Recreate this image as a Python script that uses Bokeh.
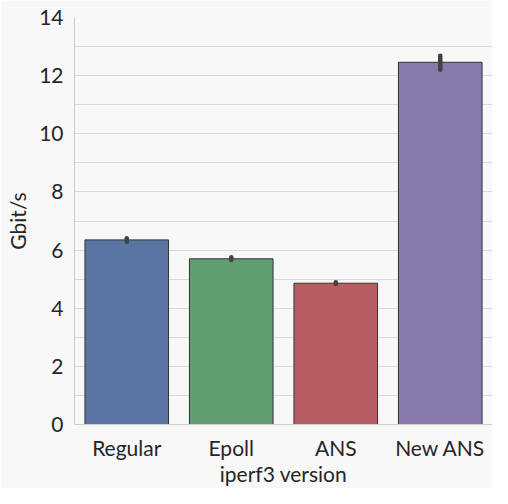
from bokeh.plotting import figure
from bokeh.models import ColumnDataSource, FactorRange, Range1d, SingleIntervalTicker
from bokeh.embed import file_html
from bokeh.resources import INLINE

categories = ["Regular", "Epoll", "ANS", "New ANS"]
values = [6.35, 5.70, 4.86, 12.46]
err_low = [6.29, 5.66, 4.83, 12.20]
err_high = [6.41, 5.75, 4.89, 12.68]
colors = ["#5975A4", "#5F9E6E", "#B55D60", "#857AAB"]

FONT = "Lato"
BG = "#f8f8f8"

src = ColumnDataSource(dict(cat=categories, val=values, lo=err_low, hi=err_high, color=colors))

p = figure(x_range=FactorRange(*categories), y_range=Range1d(0, 14),
           width=492, height=488, output_backend="svg", toolbar_location=None,
           min_border_left=74, min_border_right=0, min_border_top=17, min_border_bottom=63)
p.background_fill_color = BG
p.border_fill_color = BG
p.outline_line_color = None

p.vbar(x="cat", top="val", width=0.8, source=src, fill_color="color",
       line_color="#333333", line_width=1)
p.segment(x0="cat", y0="lo", x1="cat", y1="hi", source=src,
          line_color="#424242", line_width=4.5, line_cap="round")

p.yaxis.ticker = SingleIntervalTicker(interval=2, num_minor_ticks=2)
p.xgrid.grid_line_color = None
p.ygrid.grid_line_color = "#d9d9d9"
p.ygrid.grid_line_width = 1
p.ygrid.minor_grid_line_color = "#d9d9d9"
p.ygrid.minor_grid_line_width = 1

for ax in (p.xaxis, p.yaxis):
    ax.axis_line_color = "#cccccc"
    ax.axis_line_width = 1
    ax.major_tick_line_color = None
    ax.minor_tick_line_color = None
    ax.major_tick_out = 0
    ax.major_tick_in = 0
    ax.minor_tick_out = 0
    ax.major_label_text_font = FONT
    ax.major_label_text_font_size = "21px"
    ax.major_label_text_color = "#262626"
    ax.axis_label_text_font = FONT
    ax.axis_label_text_font_size = "21px"
    ax.axis_label_text_font_style = "normal"
    ax.axis_label_text_color = "#262626"

p.xaxis.axis_label = "iperf3 version"
p.yaxis.axis_label = "Gbit/s"
p.xaxis.major_label_standoff = 10
p.xaxis.axis_label_standoff = -2
p.yaxis.major_label_standoff = 11
p.yaxis.axis_label_standoff = 6

open("out.html", "w").write(file_html(p, INLINE))
